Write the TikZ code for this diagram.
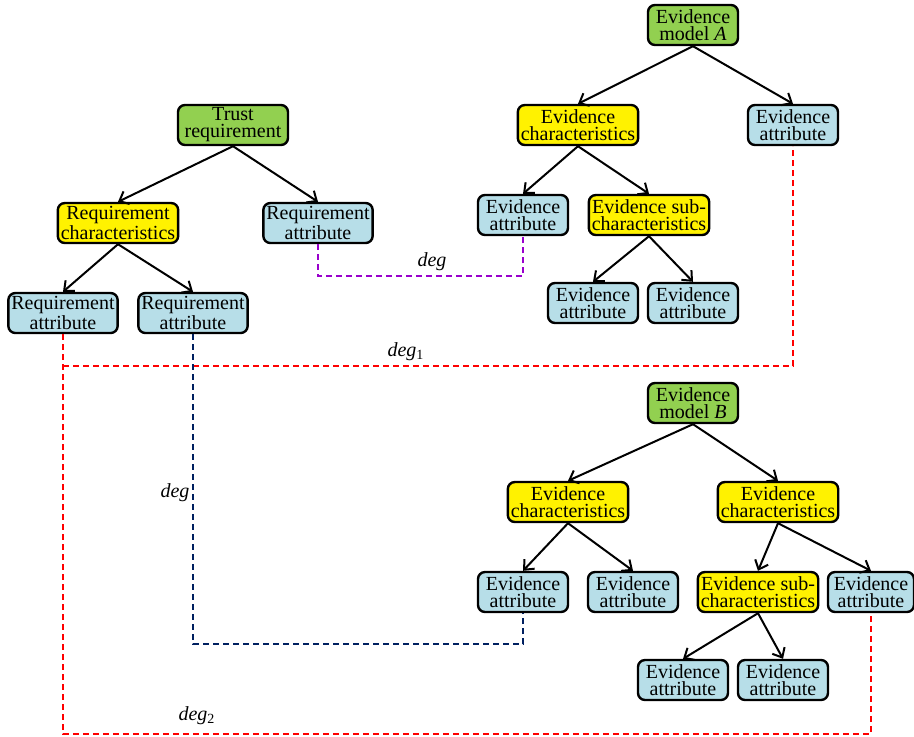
\documentclass[tikz,border=0pt]{standalone}
\usepackage{fontspec}
\setmainfont{Liberation Serif}
\usetikzlibrary{arrows.meta}
\definecolor{modelgreen}{RGB}{146,208,80}
\definecolor{attrblue}{RGB}{183,222,232}
\definecolor{degpurple}{RGB}{153,0,204}
\definecolor{degnavy}{RGB}{0,32,96}
\begin{document}
\begin{tikzpicture}[x=0.5pt,y=-0.5pt,
    box/.style={draw,line width=1.2pt,rounded corners=3.5pt,align=center,
      minimum width=45pt,minimum height=20pt,inner xsep=1.5pt,inner ysep=1pt,
      font=\rmfamily\fontsize{10}{8.5}\selectfont},
    model/.style={box,fill=modelgreen},
    charbox/.style={box,fill=yellow},
    attr/.style={box,fill=attrblue},
    link/.style={-{Straight Barb[length=4pt,width=7pt]},line width=1pt},
    degline/.style={dash pattern=on 3pt off 2pt,line width=1pt},
    deglabel/.style={font=\rmfamily\fontsize{10}{12}\selectfont\itshape}]
    \useasboundingbox (0,0) rectangle (914,736);
    % requirement tree
    \node[model,minimum width=55pt] (tr) at (233,125) {Trust\\requirement};
    \node[charbox] (rc) at (118,223) {Requirement\\characteristics};
    \node[attr] (ra1) at (318,223) {Requirement\\attribute};
    \node[attr] (ra2) at (63,313) {Requirement\\attribute};
    \node[attr] (ra3) at (193,313) {Requirement\\attribute};
    \draw[link] (tr.south) -- (rc.north);
    \draw[link] (tr.south) -- (ra1.north);
    \draw[link] (rc.south) -- (ra2.north);
    \draw[link] (rc.south) -- (ra3.north);
    % evidence model A
    \node[model] (ema) at (693,25) {Evidence\\model \textit{A}};
    \node[charbox] (eca) at (578,125) {Evidence\\characteristics};
    \node[attr] (ea1) at (793,125) {Evidence\\attribute};
    \node[attr] (ea2) at (523,215) {Evidence\\attribute};
    \node[charbox] (esa) at (649,215) {Evidence sub-\\characteristics};
    \node[attr] (ea3) at (593,303) {Evidence\\attribute};
    \node[attr] (ea4) at (693,303) {Evidence\\attribute};
    \draw[link] (ema.south) -- (eca.north);
    \draw[link] (ema.south) -- (ea1.north);
    \draw[link] (eca.south) -- (ea2.north);
    \draw[link] (eca.south) -- (esa.north);
    \draw[link] (esa.south) -- (ea3.north);
    \draw[link] (esa.south) -- (ea4.north);
    % evidence model B
    \node[model] (emb) at (693,403) {Evidence\\model \textit{B}};
    \node[charbox] (ecb1) at (568,502) {Evidence\\characteristics};
    \node[charbox] (ecb2) at (778,502) {Evidence\\characteristics};
    \node[attr] (eb1) at (523,592) {Evidence\\attribute};
    \node[attr] (eb2) at (633,592) {Evidence\\attribute};
    \node[charbox] (esb) at (758,592) {Evidence sub-\\characteristics};
    \node[attr,minimum width=43pt] (eb3) at (871,592) {Evidence\\attribute};
    \node[attr] (eb4) at (683,680) {Evidence\\attribute};
    \node[attr] (eb5) at (783,680) {Evidence\\attribute};
    \draw[link] (emb.south) -- (ecb1.north);
    \draw[link] (emb.south) -- (ecb2.north);
    \draw[link] (ecb1.south) -- (eb1.north);
    \draw[link] (ecb1.south) -- (eb2.north);
    \draw[link] (ecb2.south) -- (esb.north);
    \draw[link] (ecb2.south) -- (eb3.north);
    \draw[link] (esb.south) -- (eb4.north);
    \draw[link] (esb.south) -- (eb5.north);
    % degree links
    \draw[degline,degpurple] (ra1.south) -- ++(0,32) -| (ea2.south);
    \draw[degline,red] (ra2.south) -- ++(0,400) -| (eb3.south);
    \draw[degline,red] (ra2.south) ++(0,32) -| (ea1.south);
    \draw[degline,degnavy] (ra3.south) -- ++(0,310) -| (eb1.south);
    \node[deglabel] (dg) at (432,262) {deg};
    \node[deglabel] (dg1) at (406,352) {deg\textsubscript{\upshape 1}};
    \node[deglabel] (dgb) at (175,493) {deg};
    \node[deglabel] (dg2) at (197,716) {deg\textsubscript{\upshape 2}};
\end{tikzpicture}
\end{document}
